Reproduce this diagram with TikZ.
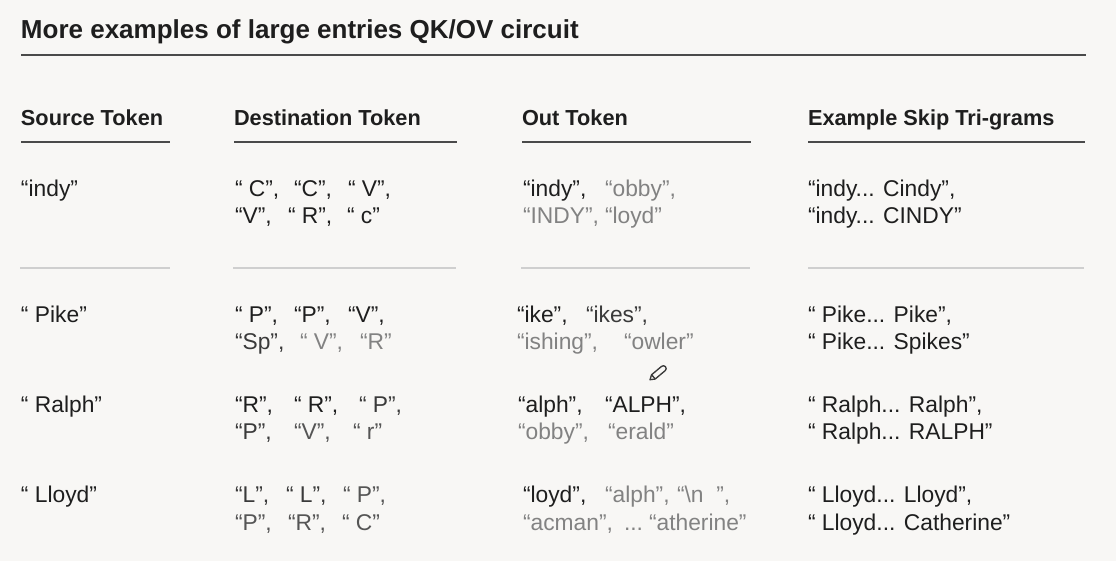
\documentclass[tikz,border=0pt]{standalone}
\usepackage{fontspec}
\setmainfont{Liberation Sans}
\definecolor{bg}{HTML}{F8F7F5}
\definecolor{ink}{HTML}{1E1E1E}
\definecolor{dk}{HTML}{3A3A3A}
\definecolor{md}{HTML}{555555}
\definecolor{lt}{HTML}{828282}
\definecolor{rulec}{HTML}{4A4A4A}
\definecolor{sepc}{HTML}{CFCFCF}
\tikzset{
  tok/.style={anchor=base west, inner sep=0pt, outer sep=0pt, font=\fontsize{17.1}{20}\selectfont, text=ink},
  hdr/.style={anchor=base west, inner sep=0pt, outer sep=0pt, font=\fontsize{16.3}{20}\selectfont\bfseries, text=ink},
  ttl/.style={anchor=base west, inner sep=0pt, outer sep=0pt, font=\fontsize{19.5}{23}\selectfont\bfseries, text=ink},
  toprule/.style={draw=rulec, line width=1.1pt},
  seprule/.style={draw=sepc, line width=1.0pt},
  pencil/.style={draw=dk, line width=1.0pt, line join=round}
}
\begin{document}
\begin{tikzpicture}[x=0.75pt,y=-0.75pt]
\path[fill=bg] (0,0) rectangle (1116,561);
\useasboundingbox (0,0) rectangle (1116,561);

% title
\node[ttl] (title) at (21,38) {More examples of large entries QK/OV circuit};
\coordinate (tr1) at (21,55); \coordinate (tr2) at (1086,55);
\draw[toprule] (tr1) -- (tr2);

% headers
\node[hdr] (h1) at (21,125) {Source Token};
\node[hdr] (h2) at (234,125) {Destination Token};
\node[hdr] (h3) at (522,125) {Out Token};
\node[hdr] (h4) at (808,125) {Example Skip Tri-grams};
\coordinate (a1) at (21,142);  \coordinate (a2) at (170,142);
\coordinate (b1) at (234,142); \coordinate (b2) at (457,142);
\coordinate (c1) at (522,142); \coordinate (c2) at (751,142);
\coordinate (d1) at (808,142); \coordinate (d2) at (1085,142);
\draw[toprule] (a1) -- (a2) (b1) -- (b2) (c1) -- (c2) (d1) -- (d2);

% separators
\coordinate (sa1) at (20,268);  \coordinate (sa2) at (170,268);
\coordinate (sb1) at (233,268); \coordinate (sb2) at (456,268);
\coordinate (sc1) at (521,268); \coordinate (sc2) at (750,268);
\coordinate (sd1) at (808,268); \coordinate (sd2) at (1084,268);
\draw[seprule] (sa1) -- (sa2) (sb1) -- (sb2) (sc1) -- (sc2) (sd1) -- (sd2);

% ---------- row 1 ----------
\node[tok] (s1) at (21,196.5) {“indy”};
\node[tok] (r1d1) at (235,196.5) {“ C”,};
\node[tok] (r1d2) at (294,196.5) {“C”,};
\node[tok] (r1d3) at (348,196.5) {“ V”,};
\node[tok] (r1d4) at (235,223) {“V”,};
\node[tok] (r1d5) at (288,223) {“ R”,};
\node[tok] (r1d6) at (347,223) {“ c”};
\node[tok] (r1o1) at (523,196.5) {“indy”,};
\node[tok,text=lt] (r1o2) at (605,196.5) {“obby”,};
\node[tok,text=lt] (r1o3) at (523,223) {“INDY”,};
\node[tok,text=lt] (r1o4) at (605,223) {“loyd”};
\node[tok] (r1k1) at (808,196.5) {“indy... Cindy”,};
\node[tok] (r1k2) at (808,223) {“indy... CINDY”};

% ---------- row 2 ----------
\node[tok] (s2) at (21,322) {“ Pike”};
\node[tok] (r2d1) at (235,322) {“ P”,};
\node[tok] (r2d2) at (294,322) {“P”,};
\node[tok] (r2d3) at (348,322) {“V”,};
\node[tok,text=dk] (r2d4) at (235,349) {“Sp”,};
\node[tok,text=lt] (r2d5) at (300,349) {“ V”,};
\node[tok,text=lt] (r2d6) at (360,349) {“R”};
\node[tok] (r2o1) at (517,322) {“ike”,};
\node[tok,text=dk] (r2o2) at (586,322) {“ikes”,};
\node[tok,text=lt] (r2o3) at (517,349) {“ishing”,};
\node[tok,text=lt] (r2o4) at (624,349) {“owler”};
\node[tok] (r2k1) at (808,322) {“ Pike... Pike”,};
\node[tok] (r2k2) at (808,349) {“ Pike... Spikes”};

% pencil cursor
\coordinate (pen) at (658,373);
\begin{scope}[shift={(pen)}, rotate=40]
  \draw[pencil] (-10.5,0) -- (-6,-2.8) -- (7,-2.8) arc[start angle=-90, end angle=90, radius=2.8] -- (-6,2.8) -- cycle;
  \draw[pencil] (-6,-2.8) -- (-6,2.8);
\end{scope}

% ---------- row 3 ----------
\node[tok] (s3) at (21,412) {“ Ralph”};
\node[tok] (r3d1) at (235,412) {“R”,};
\node[tok] (r3d2) at (294,412) {“ R”,};
\node[tok,text=dk] (r3d3) at (359,412) {“ P”,};
\node[tok,text=dk] (r3d4) at (235,439) {“P”,};
\node[tok,text=md] (r3d5) at (294,439) {“V”,};
\node[tok,text=md] (r3d6) at (353,439) {“ r”};
\node[tok] (r3o1) at (518,412) {“alph”,};
\node[tok] (r3o2) at (605,412) {“ALPH”,};
\node[tok,text=lt] (r3o3) at (518,439) {“obby”,};
\node[tok,text=lt] (r3o4) at (608,439) {“erald”};
\node[tok] (r3k1) at (808,412) {“ Ralph... Ralph”,};
\node[tok] (r3k2) at (808,439) {“ Ralph... RALPH”};

% ---------- row 4 ----------
\node[tok] (s4) at (21,502) {“ Lloyd”};
\node[tok,text=dk] (r4d1) at (235,502) {“L”,};
\node[tok,text=dk] (r4d2) at (286,502) {“ L”,};
\node[tok,text=md] (r4d3) at (343,502) {“ P”,};
\node[tok,text=md] (r4d4) at (235,530) {“P”,};
\node[tok,text=md] (r4d5) at (288,530) {“R”,};
\node[tok,text=md] (r4d6) at (342,530) {“ C”};
\node[tok] (r4o1) at (523,502) {“loyd”,};
\node[tok,text=lt] (r4o2) at (605,502) {“alph”,};
\node[tok,text=lt] (r4o3) at (677,502) {“\textbackslash{}n\ \ ”,};
\node[tok,text=lt] (r4o4) at (523,530) {“acman”,};
\node[tok,text=lt] (r4o5) at (624,530) {...};
\node[tok,text=lt] (r4o6) at (649,530) {“atherine”};
\node[tok] (r4k1) at (808,502) {“ Lloyd... Lloyd”,};
\node[tok] (r4k2) at (808,530) {“ Lloyd... Catherine”};
\end{tikzpicture}
\end{document}
